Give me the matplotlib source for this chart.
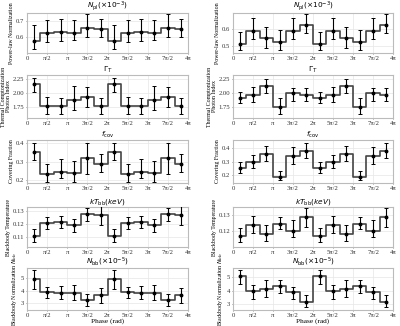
import numpy as np
import matplotlib
matplotlib.use("Agg")
import matplotlib.pyplot as plt

# ---- data (6 phase bins, repeated over two cycles) ----
titles = [r"$N_{\rm pl}(\times10^{-3})$", r"$\Gamma_T$", r"$f_{\rm cov}$",
          r"$kT_{\rm bb}(keV)$", r"$N_{\rm bb}(\times10^{-5})$"]
ylabels = ["Power-law Normalization", "Thermal Comptonization\nPhoton Index",
           "Covering Fraction", "Blackbody Temperature",
           r"Blackbody Normalization $N_{bb}$"]
xtick_labels = ["0", "π/2", "π", "3π/2", "2π", "5π/2", "3π", "7π/2", "4π"]

# left column
npl_L = [0.578, 0.626, 0.632, 0.628, 0.656, 0.650]
npl_L_lo = [0.524, 0.570, 0.578, 0.580, 0.600, 0.598]
npl_L_hi = [0.674, 0.708, 0.714, 0.708, 0.744, 0.714]
gam_L = [2.16, 1.78, 1.78, 1.89, 1.94, 1.78]
gam_L_lo = [2.03, 1.63, 1.64, 1.70, 1.76, 1.64]
gam_L_hi = [2.28, 1.94, 1.92, 2.13, 2.12, 1.92]
fcov_L = [0.350, 0.232, 0.245, 0.237, 0.317, 0.285]
fcov_L_lo = [0.310, 0.190, 0.210, 0.190, 0.232, 0.245]
fcov_L_hi = [0.398, 0.285, 0.312, 0.305, 0.397, 0.342]
kt_L = [0.1107, 0.1205, 0.1213, 0.1188, 0.1275, 0.1265]
kt_L_lo = [0.1058, 0.1160, 0.1170, 0.1140, 0.1225, 0.1190]
kt_L_hi = [0.1160, 0.1250, 0.1262, 0.1240, 0.1325, 0.1335]
nbb_L = [4.92, 3.88, 3.83, 3.83, 3.25, 3.62]
nbb_L_lo = [4.15, 3.42, 3.28, 3.22, 2.75, 2.98]
nbb_L_hi = [5.65, 4.32, 4.38, 4.42, 3.68, 4.18]

# right column
npl_R = [0.512, 0.590, 0.545, 0.522, 0.588, 0.625]
npl_R_lo = [0.474, 0.540, 0.484, 0.474, 0.540, 0.574]
npl_R_hi = [0.582, 0.668, 0.614, 0.594, 0.668, 0.690]
gam_R = [1.91, 1.97, 2.14, 1.76, 2.00, 1.97]
gam_R_lo = [1.82, 1.85, 2.00, 1.63, 1.87, 1.86]
gam_R_hi = [2.03, 2.11, 2.25, 1.92, 2.09, 2.10]
fcov_R = [0.250, 0.298, 0.358, 0.185, 0.343, 0.380]
fcov_R_lo = [0.215, 0.250, 0.305, 0.160, 0.285, 0.328]
fcov_R_hi = [0.298, 0.345, 0.415, 0.230, 0.405, 0.435]
kt_R = [0.1166, 0.1240, 0.1180, 0.1245, 0.1200, 0.1290]
kt_R_lo = [0.1132, 0.1190, 0.1136, 0.1210, 0.1160, 0.1226]
kt_R_hi = [0.1216, 0.1292, 0.1236, 0.1286, 0.1266, 0.1346]
nbb_R = [5.08, 3.95, 4.12, 4.32, 3.92, 3.15]
nbb_R_lo = [4.48, 3.40, 3.55, 3.80, 3.35, 2.75]
nbb_R_hi = [5.55, 4.42, 4.78, 4.80, 4.30, 3.68]

left = [(npl_L, npl_L_lo, npl_L_hi), (gam_L, gam_L_lo, gam_L_hi),
        (fcov_L, fcov_L_lo, fcov_L_hi), (kt_L, kt_L_lo, kt_L_hi),
        (nbb_L, nbb_L_lo, nbb_L_hi)]
right = [(npl_R, npl_R_lo, npl_R_hi), (gam_R, gam_R_lo, gam_R_hi),
         (fcov_R, fcov_R_lo, fcov_R_hi), (kt_R, kt_R_lo, kt_R_hi),
         (nbb_R, nbb_R_lo, nbb_R_hi)]

ylims_L = [(0.50, 0.75), (1.56, 2.33), (0.185, 0.415), (0.1020, 0.1330), (2.40, 5.85)]
ylims_R = [(0.455, 0.695), (1.56, 2.33), (0.14, 0.46), (0.1100, 0.1350), (2.55, 5.70)]
yticks_L = [[0.6, 0.7], [1.75, 2.00, 2.25], [0.2, 0.3, 0.4], [0.11, 0.12, 0.13], [3, 4, 5]]
yticks_R = [[0.5, 0.6], [1.75, 2.00, 2.25], [0.2, 0.3, 0.4], [0.12, 0.13], [3, 4, 5]]
ytfmt = ["%.1f", "%.2f", "%.1f", "%.2f", "%d"]

# ---- figure ----
W, H = 400, 326
fig = plt.figure(figsize=(4.0, 3.26), dpi=100)
rows_px = [(13, 53), (75, 118), (140, 183), (207, 247), (268, 310)]
cols_px = [(27, 188), (233, 393)]

phase = (np.arange(6) + 0.5) * np.pi / 3
phase2 = np.concatenate([phase, phase + 2 * np.pi])
serif = "Liberation Serif"

for c, (col_data, ylims, yticks) in enumerate([(left, ylims_L, yticks_L),
                                                (right, ylims_R, yticks_R)]):
    x0, x1 = cols_px[c]
    for r, (vals, lo, hi) in enumerate(col_data):
        t, b = rows_px[r]
        ax = fig.add_axes([x0 / W, 1 - b / H, (x1 - x0) / W, (b - t) / H])
        v = np.array(vals * 2)
        l = np.array(lo * 2)
        h = np.array(hi * 2)
        ax.plot(phase2, v, drawstyle="steps-mid", color="#444444", lw=1.2, zorder=2)
        ax.errorbar(phase2, v, yerr=[v - l, h - v], fmt="o", ms=1.8, color="black",
                    ecolor="black", elinewidth=0.8, capsize=1.3, capthick=0.7, zorder=3)
        ax.set_xlim(0, 4 * np.pi)
        ax.set_xticks(np.arange(9) * np.pi / 2)
        ax.set_xticklabels(xtick_labels, fontsize=4.8, family=serif)
        ax.set_ylim(*ylims[r])
        ax.set_yticks(yticks[r])
        ax.set_yticklabels([ytfmt[r] % y for y in yticks[r]], fontsize=4.8, family=serif)
        ax.tick_params(length=1.0, width=0.4, pad=1.0, colors="#333333")
        ax.grid(True, color="#e6e6e6", lw=0.5)
        ax.set_axisbelow(True)
        for s in ax.spines.values():
            s.set_color("#bbbbbb")
            s.set_linewidth(0.8)
        ax.set_title(titles[r], fontsize=5.3, pad=0.8)
        ax.set_ylabel(ylabels[r], fontsize=4.2, family=serif, labelpad=1.5,
                      linespacing=0.85)
        if r == 4:
            ax.set_xlabel("Phase (rad)", fontsize=5.2, family=serif, labelpad=0)

fig.savefig("out.png", dpi=100)
